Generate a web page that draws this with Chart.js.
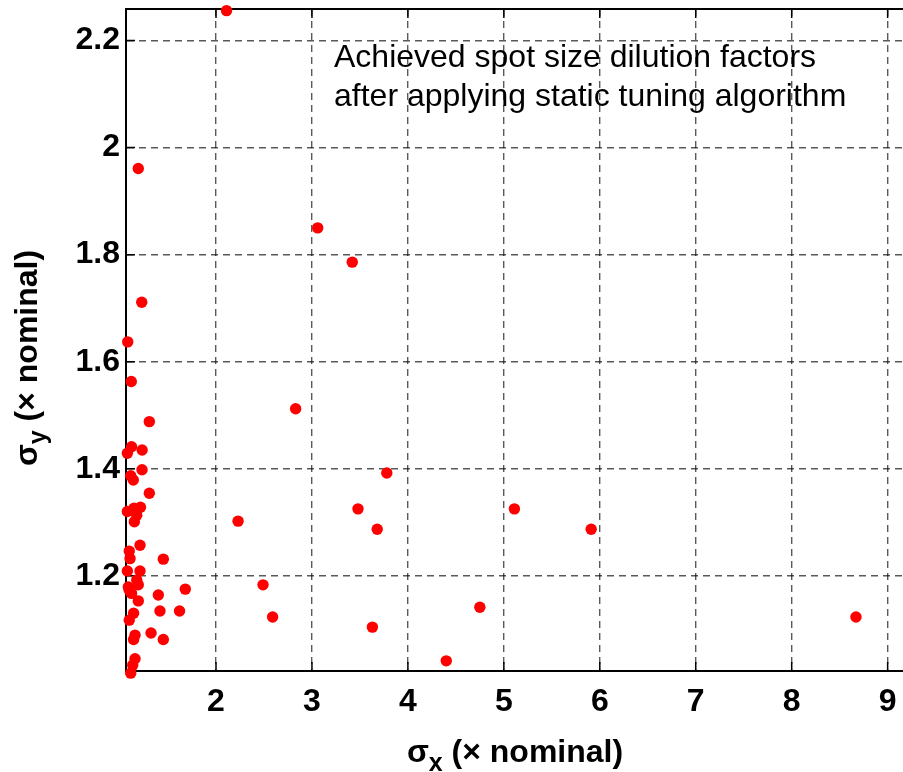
<!DOCTYPE html>
<html>
<head>
<meta charset="utf-8">
<script src="https://cdn.jsdelivr.net/npm/chart.js@4/dist/chart.umd.min.js"></script>
<style>
html,body{margin:0;padding:0;background:#fff;}
</style>
</head>
<body>
<canvas id="myChart" width="903" height="772"></canvas>
<script>
// spot size dilution factors
const sigmaX = [2.11, 3.06, 3.42, 2.83, 3.78, 3.48, 5.11, 3.68, 5.91, 2.23, 2.49, 2.59, 3.63, 4.75, 4.40, 8.67,
  1.19, 1.226, 1.08, 1.117, 1.305, 1.12, 1.076, 1.23, 1.229, 1.111, 1.138, 1.305, 1.076, 1.145, 1.213, 1.174,
  1.149, 1.208, 1.096, 1.104, 1.451, 1.076, 1.208, 1.174, 1.086, 1.19, 1.12, 1.19, 1.399, 1.68, 1.416, 1.62,
  1.141, 1.096, 1.156, 1.141, 1.323, 1.451, 1.156, 1.132, 1.111, 1.096];
const sigmaY = [2.256, 1.850, 1.786, 1.512, 1.392, 1.325, 1.325, 1.287, 1.287, 1.302, 1.183, 1.123, 1.104, 1.141, 1.041, 1.123,
  1.961, 1.711, 1.637, 1.563, 1.488, 1.441, 1.429, 1.435, 1.398, 1.387, 1.379, 1.354, 1.320, 1.326, 1.328, 1.313,
  1.301, 1.257, 1.246, 1.232, 1.231, 1.209, 1.209, 1.192, 1.179, 1.183, 1.167, 1.153, 1.164, 1.175, 1.134, 1.134,
  1.130, 1.117, 1.089, 1.081, 1.093, 1.081, 1.045, 1.033, 1.018, 1.173];

const xTicks = [2, 3, 4, 5, 6, 7, 8, 9];
const yTicks = [1.2, 1.4, 1.6, 1.8, 2, 2.2];
const noteLines = ['Achieved spot size dilution factors', 'after applying static tuning algorithm'];

const FONT = "'Liberation Sans', Arial, Helvetica, sans-serif";

const points = sigmaX.map((x, i) => ({x: x, y: sigmaY[i]}));

// draws the frame top, inward ticks, the note and axis titles with subscripts
const extras = {
  id: 'extras',
  beforeDatasetsDraw(chart) {
    const ctx = chart.ctx;
    const a = chart.chartArea;
    const sx = chart.scales.x, sy = chart.scales.y;
    ctx.save();
    ctx.strokeStyle = '#000';
    ctx.lineWidth = 2;
    ctx.beginPath();
    ctx.moveTo(a.left - 1, a.top);
    ctx.lineTo(a.right, a.top);
    ctx.stroke();
    ctx.lineWidth = 1.5;
    ctx.beginPath();
    xTicks.forEach(v => {
      const px = sx.getPixelForValue(v);
      ctx.moveTo(px, a.bottom); ctx.lineTo(px, a.bottom - 9);
      ctx.moveTo(px, a.top); ctx.lineTo(px, a.top + 9);
    });
    yTicks.forEach(v => {
      const py = sy.getPixelForValue(v);
      ctx.moveTo(a.left, py); ctx.lineTo(a.left + 9, py);
    });
    ctx.stroke();

    ctx.fillStyle = '#000';
    ctx.font = '32px ' + FONT;
    ctx.textAlign = 'left';
    ctx.textBaseline = 'alphabetic';
    ctx.fillText(noteLines[0], 334, 67);
    ctx.fillText(noteLines[1], 334, 106);
    ctx.restore();
  },
  afterDraw(chart) {
    const ctx = chart.ctx;
    const drawTitle = (sub, cx, cy, rotate) => {
      ctx.save();
      ctx.translate(cx, cy);
      if (rotate) ctx.rotate(-Math.PI / 2);
      ctx.fillStyle = '#000';
      ctx.textBaseline = 'alphabetic';
      ctx.textAlign = 'left';
      const big = 'bold 32px ' + FONT, small = 'bold 25px ' + FONT;
      ctx.font = big;
      const w1 = ctx.measureText('\u03c3').width;
      const rest = ' (\u00d7 nominal)';
      const w3 = ctx.measureText(rest).width;
      ctx.font = small;
      const w2 = ctx.measureText(sub).width;
      let x = -(w1 + w2 + w3) / 2;
      ctx.font = big;
      ctx.fillText('\u03c3', x, 0);
      x += w1;
      ctx.font = small;
      ctx.fillText(sub, x, 9);
      x += w2;
      ctx.font = big;
      ctx.fillText(rest, x, 0);
      ctx.restore();
    };
    drawTitle('x', 515, 762, false);
    drawTitle('y', 37, 358, true);
  }
};

new Chart(document.getElementById('myChart'), {
  type: 'scatter',
  data: {
    datasets: [{
      data: points,
      backgroundColor: '#ff0000',
      borderWidth: 0,
      pointRadius: 5.7,
      pointHoverRadius: 5.7,
      clip: false
    }]
  },
  options: {
    responsive: false,
    animation: false,
    layout: {autoPadding: false, padding: {top: 9, right: 0, left: 0, bottom: 0}},
    plugins: {
      legend: {display: false},
      tooltip: {enabled: false}
    },
    scales: {
      x: {
        type: 'linear',
        min: 1.062,
        max: 9.16,
        afterBuildTicks: s => { s.ticks = xTicks.map(v => ({value: v})); },
        afterFit: s => { s.height = 101; s.paddingLeft = 0; s.paddingRight = 0; },
        grid: {color: 'rgba(0,0,0,0.65)', lineWidth: 1.4, drawTicks: false},
        border: {display: true, color: '#000', width: 2, dash: [7, 5]},
        ticks: {
          color: '#000',
          padding: 12,
          font: {family: FONT, size: 32, weight: 'bold'},
          callback: v => String(v)
        }
      },
      y: {
        type: 'linear',
        min: 1.022,
        max: 2.259,
        afterBuildTicks: s => { s.ticks = yTicks.map(v => ({value: v})); },
        afterFit: s => { s.width = 126; s.paddingTop = 0; s.paddingBottom = 0; },
        grid: {color: 'rgba(0,0,0,0.65)', lineWidth: 1.4, drawTicks: false},
        border: {display: true, color: '#000', width: 2, dash: [7, 5]},
        ticks: {
          color: '#000',
          padding: 6,
          font: {family: FONT, size: 32, weight: 'bold'},
          callback: v => String(v)
        }
      }
    }
  },
  plugins: [extras]
});
</script>
</body>
</html>
